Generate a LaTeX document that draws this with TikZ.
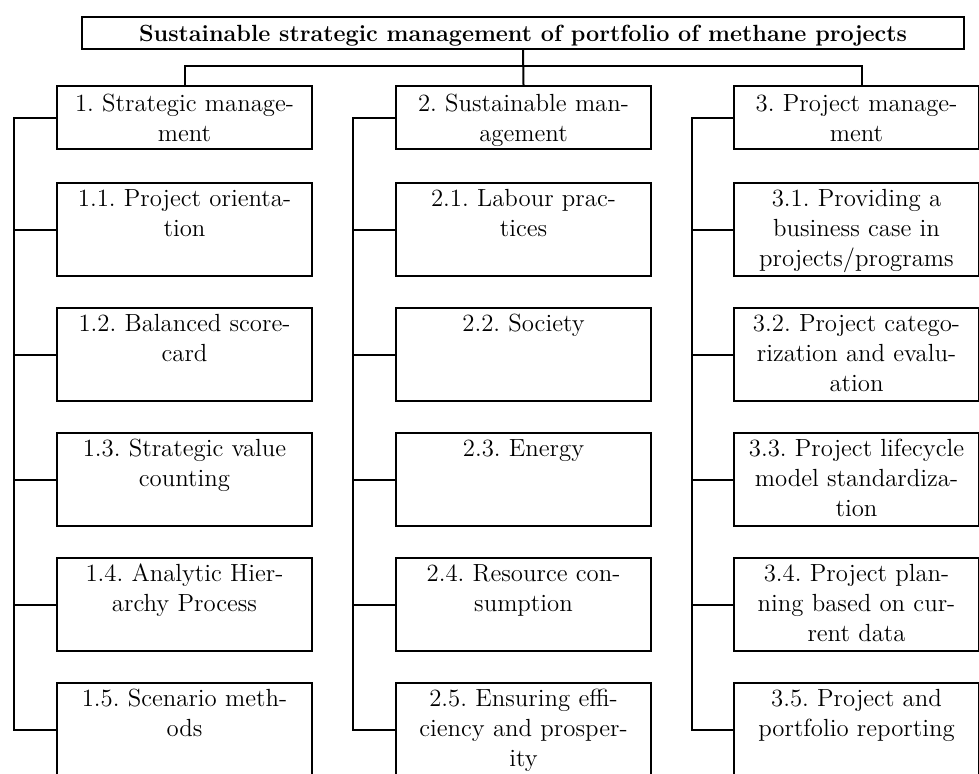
\documentclass[tikz,border=0pt]{standalone}
\begin{document}
\frenchspacing
\begin{tikzpicture}[x=0.5pt,y=-0.5pt,
  box/.style={draw,line width=1pt,inner sep=0pt,anchor=north west,align=center,font=\fontsize{12.4}{15}\selectfont\frenchspacing},
  head/.style={box,text width=127.5pt,text height=12.5pt,text depth=19pt},
  item/.style={box,text width=127.5pt,text height=11.5pt,text depth=35pt},
  link/.style={draw,line width=1pt}]
\clip (0,0) rectangle (979,773);
\node[box,minimum width=441pt,text height=12pt,text depth=4pt,font=\fontsize{11.7}{15}\selectfont\bfseries] (0) at (81,16) {Sustainable strategic management of portfolio of methane projects};
\node[head] (1) at (56,85) {1. Strategic manage-\\ment};
\node[head] (2) at (395,85) {2. Sustainable man-\\agement};
\node[head,text width=122.5pt] (3) at (733,85) {3. Project manage-\\ment};
\node[item] (11) at (56,182) {1.1. Project orienta-\\tion};
\node[item] (12) at (56,307) {1.2. Balanced score-\\card};
\node[item] (13) at (56,432) {1.3. Strategic value\\counting};
\node[item] (14) at (56,557) {1.4. Analytic Hier-\\archy Process};
\node[item] (15) at (56,682) {1.5. Scenario meth-\\ods};
\node[item] (21) at (395,182) {2.1. Labour prac-\\tices};
\node[item] (22) at (395,307) {2.2. Society};
\node[item] (23) at (395,432) {2.3. Energy};
\node[item] (24) at (395,557) {2.4. Resource con-\\sumption};
\node[item] (25) at (395,682) {2.5. Ensuring effi-\\ciency and prosper-\\ity};
\node[item,text width=122.5pt] (31) at (733,182) {3.1. Providing a\\business case in\\projects/programs};
\node[item,text width=122.5pt] (32) at (733,307) {3.2. Project catego-\\rization and evalu-\\ation};
\node[item,text width=122.5pt] (33) at (733,432) {3.3. Project lifecycle\\model standardiza-\\tion};
\node[item,text width=122.5pt] (34) at (733,557) {3.4. Project plan-\\ning based on cur-\\rent data};
\node[item,text width=122.5pt] (35) at (733,682) {3.5. Project and\\portfolio reporting};
\coordinate (bar) at (522,66);
\path[link] (0.south) -- (2.north);
\path[link] (1.north) |- (bar) -| ([xshift=2.75pt]3.north);
\path[link] (1.west) -- ++(-21pt,0) coordinate (s1) |- (15.west);
\path[link] (2.west) -- ++(-21pt,0) coordinate (s2) |- (25.west);
\path[link] (3.west) -- ++(-20.5pt,0) coordinate (s3) |- (35.west);
\path[link] (11.west) -- (11.west -| s1);
\path[link] (12.west) -- (12.west -| s1);
\path[link] (13.west) -- (13.west -| s1);
\path[link] (14.west) -- (14.west -| s1);
\path[link] (21.west) -- (21.west -| s2);
\path[link] (22.west) -- (22.west -| s2);
\path[link] (23.west) -- (23.west -| s2);
\path[link] (24.west) -- (24.west -| s2);
\path[link] (31.west) -- (31.west -| s3);
\path[link] (32.west) -- (32.west -| s3);
\path[link] (33.west) -- (33.west -| s3);
\path[link] (34.west) -- (34.west -| s3);
\end{tikzpicture}
\end{document}
